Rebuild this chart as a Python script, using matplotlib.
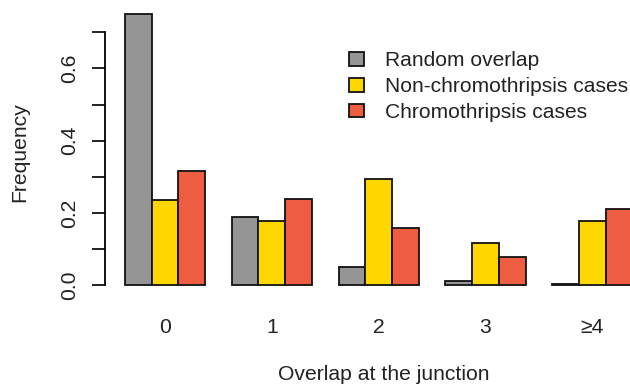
import matplotlib
matplotlib.use("Agg")
import matplotlib.pyplot as plt
import numpy as np

categories = ["0", "1", "2", "3", "\u22654"]
series_names = ["Random overlap", "Non-chromothripsis cases", "Chromothripsis cases"]
random_overlap = [0.752, 0.188, 0.049, 0.011, 0.003]
non_chromothripsis = [0.235, 0.177, 0.293, 0.117, 0.177]
chromothripsis = [0.317, 0.237, 0.158, 0.078, 0.210]
colors = ["#959595", "#FFD700", "#EE5C42"]

plt.rcParams["font.family"] = ["Liberation Sans", "DejaVu Sans"]
FS = 15.2
LFS = 15.1

W, H = 630, 389
fig = plt.figure(figsize=(W / 100, H / 100), dpi=100)
left_px, right_px = 104.7, 652.6
top_px, bot_px = 2.7, 295.9
ax = fig.add_axes([left_px / W, 1 - bot_px / H, (right_px - left_px) / W, (bot_px - top_px) / H])

series = [random_overlap, non_chromothripsis, chromothripsis]
n = len(categories)
for j, vals in enumerate(series):
    xs = [4 * i + 1 + j for i in range(n)]
    ax.bar(xs, vals, width=1.0, align="edge", color=colors[j], edgecolor="#111111",
           linewidth=1.3, label=series_names[j])

ax.set_xlim(0.24, 20.76)
ax.set_ylim(-0.0301, 0.7822)

for s in ["top", "right", "bottom"]:
    ax.spines[s].set_visible(False)
ax.spines["left"].set_bounds(0, 0.7)
ax.spines["left"].set_linewidth(1.3)

yt = np.round(np.arange(0, 0.71, 0.1), 1)
ax.set_yticks(yt)
ax.set_yticklabels(["0.0", "", "0.2", "", "0.4", "", "0.6", ""], rotation=90, va="center", fontsize=FS)
ax.tick_params(axis="y", length=9.4, width=1.3, pad=9, colors="#111111", labelcolor="#222222")

ax.set_xticks([4 * i + 2.5 for i in range(n)])
ax.set_xticklabels(categories, fontsize=FS, color="#222222")
ax.tick_params(axis="x", length=0, pad=16)

fig.text(384 / W, 1 - 375 / H, "Overlap at the junction",
         ha="center", va="center", fontsize=FS, color="#222222")
fig.text(20 / W, 1 - 152 / H, "Frequency", ha="center", va="center", rotation=90,
         fontsize=FS, color="#222222")

leg = ax.legend(loc="upper left", bbox_to_anchor=(348.5 / W, 1 - 51.5 / H),
                bbox_transform=fig.transFigure, frameon=False, fontsize=LFS,
                handlelength=0.72, handleheight=0.63, handletextpad=1.0,
                labelspacing=0.32, borderaxespad=0, borderpad=0)
for t in leg.get_texts():
    t.set_color("#222222")

fig.savefig("out.png", dpi=100)
